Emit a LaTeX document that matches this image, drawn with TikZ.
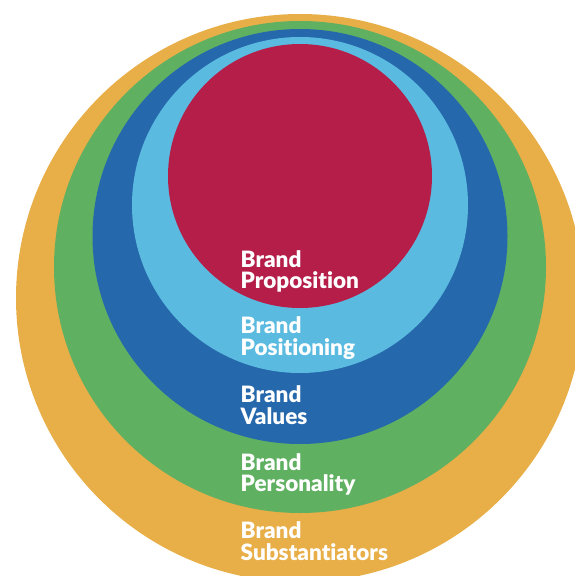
\documentclass[tikz,border=0pt]{standalone}
\usepackage{fontspec}
\setmainfont{Lato}[BoldFont={Lato Black}, Ligatures=NoCommon]
\usetikzlibrary{positioning}

\definecolor{substcol}{HTML}{E8AE48}
\definecolor{personcol}{HTML}{60B062}
\definecolor{valuecol}{HTML}{2568AC}
\definecolor{positcol}{HTML}{5BBAE0}
\definecolor{propcol}{HTML}{B41E48}

\begin{document}
\begin{tikzpicture}[x=1pt, y=-1pt]
\tikzstyle{ring}=[circle, inner sep=0pt, draw=none]
\tikzstyle{ringtext}=[anchor=base west, align=left, inner sep=0pt, text=white, font=\bfseries\fontsize{22.5}{21.5}\selectfont]
    \useasboundingbox (0,0) rectangle (575,576);
    \clip (0,0) rectangle (575,576);
    % rings, outside in
    \node[ring, fill=substcol,  minimum size=568pt] (subst)  at (300,298)   { };
    \node[ring, fill=personcol, minimum size=492pt] (person) at (300,267)   { };
    \node[ring, fill=valuecol,  minimum size=415pt] (value)  at (300,236.5) { };
    \node[ring, fill=positcol,  minimum size=336pt] (posit)  at (300,205)   { };
    \node[ring, fill=propcol,   minimum size=264pt] (prop)   at (300,176)   { };
    % texts (base is the second line)
    \node[ringtext] (proptext)   at (240.5,288.5) {Brand\\Proposition};
    \node[ringtext] (posittext)  at (240.5,355)   {Brand\\Positioning};
    \node[ringtext] (valuetext)  at (240.5,424)   {Brand\\Values};
    \node[ringtext] (persontext) at (240.5,491.7) {Brand\\Personality};
    \node[ringtext] (substtext)  at (240.5,560)   {Brand\\Substantiators};
\end{tikzpicture}
\end{document}
